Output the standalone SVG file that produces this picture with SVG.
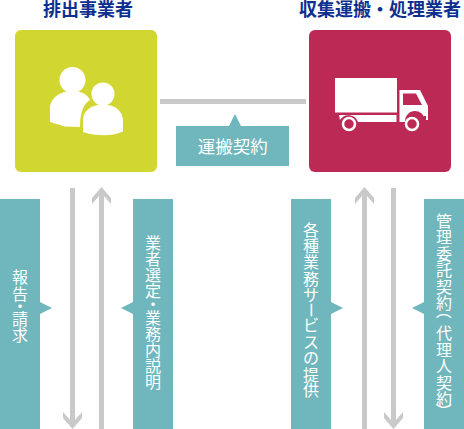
<svg xmlns="http://www.w3.org/2000/svg" width="464" height="429" viewBox="0 0 464 429">
<style>
text{font-family:"Noto Sans CJK JP","Noto Sans",sans-serif}
.h{font-size:18px;font-weight:700;fill:#0d2f8f;text-anchor:middle}
.l{font-size:16px;fill:#fff}
.t{fill:#6fb7bd}
.g{fill:#c9c9c9}
.w{fill:#fff}
</style>
<defs>
<polygon id="up" class="g" points="0,187 9.500,198 9.500,204 2.500,196 2.500,429 -2.500,429 -2.500,196 -9.500,204 -9.500,198"/>
<polygon id="down" class="g" points="0,429 9.500,418 9.500,412 2.500,420 2.500,188 -2.500,188 -2.500,420 -9.500,412 -9.500,418"/>
</defs>
<rect width="464" height="429" fill="#fff"/>
<g id="connectors">
<rect class="g" x="160" y="99" width="146" height="5"/>
<use href="#down" x="72.500"/>
<use href="#up" x="101.500"/>
<use href="#up" x="364.500"/>
<use href="#down" x="393.500"/>
</g>
<g id="node-generator">
<text class="h" x="88" y="16">排出事業者</text>
<rect x="15" y="30" width="142" height="142" rx="6" fill="#d2d631"/>
<g class="w">
<circle cx="72.500" cy="80" r="13"/>
<path d="M50 122V109C50 98 60 91 72 91C81 91 87 94 90 100C84 103 80 112 80 127L65 126.500Z"/>
<circle cx="103" cy="94" r="11.500"/>
<path d="M83 132V120C83 111 91 104.500 103 104.500C115 104.500 123 111 123 121V131.500C110 137 96 136 83 132Z"/>
</g>
</g>
<g id="node-transporter">
<text class="h" x="380" y="16">収集運搬・処理業者</text>
<rect x="309" y="30" width="142" height="142" rx="6" fill="#bd2955"/>
<g class="w">
<rect x="335" y="78" width="62" height="34.500"/>
<path fill-rule="evenodd" d="M399.500 90H420L428 106V120H425A10 10 0 0 0 405 122H399.500ZM403 93.500V105H422L416 93.500Z"/>
<path d="M339 115H396.500V122H358A10 10 0 0 0 340 120Z"/>
<circle cx="349" cy="124" r="6" fill="none" stroke="#fff" stroke-width="2.500"/>
<circle cx="412" cy="124" r="6" fill="none" stroke="#fff" stroke-width="2.500"/>
</g>
<rect x="424" y="116" width="2" height="4" fill="#bd2955"/>
</g>
<g id="label-contract">
<path class="t" d="M176 126H229L235 114L241 126H289V166H176Z"/>
<text class="l" x="232.700" y="152.500" text-anchor="middle" style="font-size:17.500px">運搬契約</text>
</g>
<g id="label-report">
<path class="t" d="M0 199H40V302L52 308L40 314V429H0Z"/>
<text class="l" x="12 12 12 12 12" y="283 299.500 312 325 341">報告・請求</text>
</g>
<g id="label-selection">
<path class="t" d="M133 199H173V429H133V314L121 308L133 302Z"/>
<text class="l" x="145 145 145 145 145 145 145 145 145 145" y="249 265 281 297 310 324 340 356 372 388">業者選定・業務内説明</text>
</g>
<g id="label-services">
<path class="t" d="M291 199H331V302L343 308L331 314V429H291Z"/>
<text class="l" x="303 303 303 303 303 305 303 303 303 303 303" y="235.500 252 268 285 301 302 331 348 364 381 396" rotate="0 0 0 0 0 90 0 0 0 0 0">各種業務サービスの提供</text>
</g>
<g id="label-management">
<path class="t" d="M424 199H464V429H424V314L412 308L424 302Z"/>
<text class="l" x="436 436 436 436 436 436 438 436 436 436 436 436 438" y="226.500 243 259.500 276 292.500 309 303 339 355.500 372 388.500 405 403" rotate="0 0 0 0 0 0 90 0 0 0 0 0 90">管理委託契約（代理人契約）</text>
</g>
</svg>
